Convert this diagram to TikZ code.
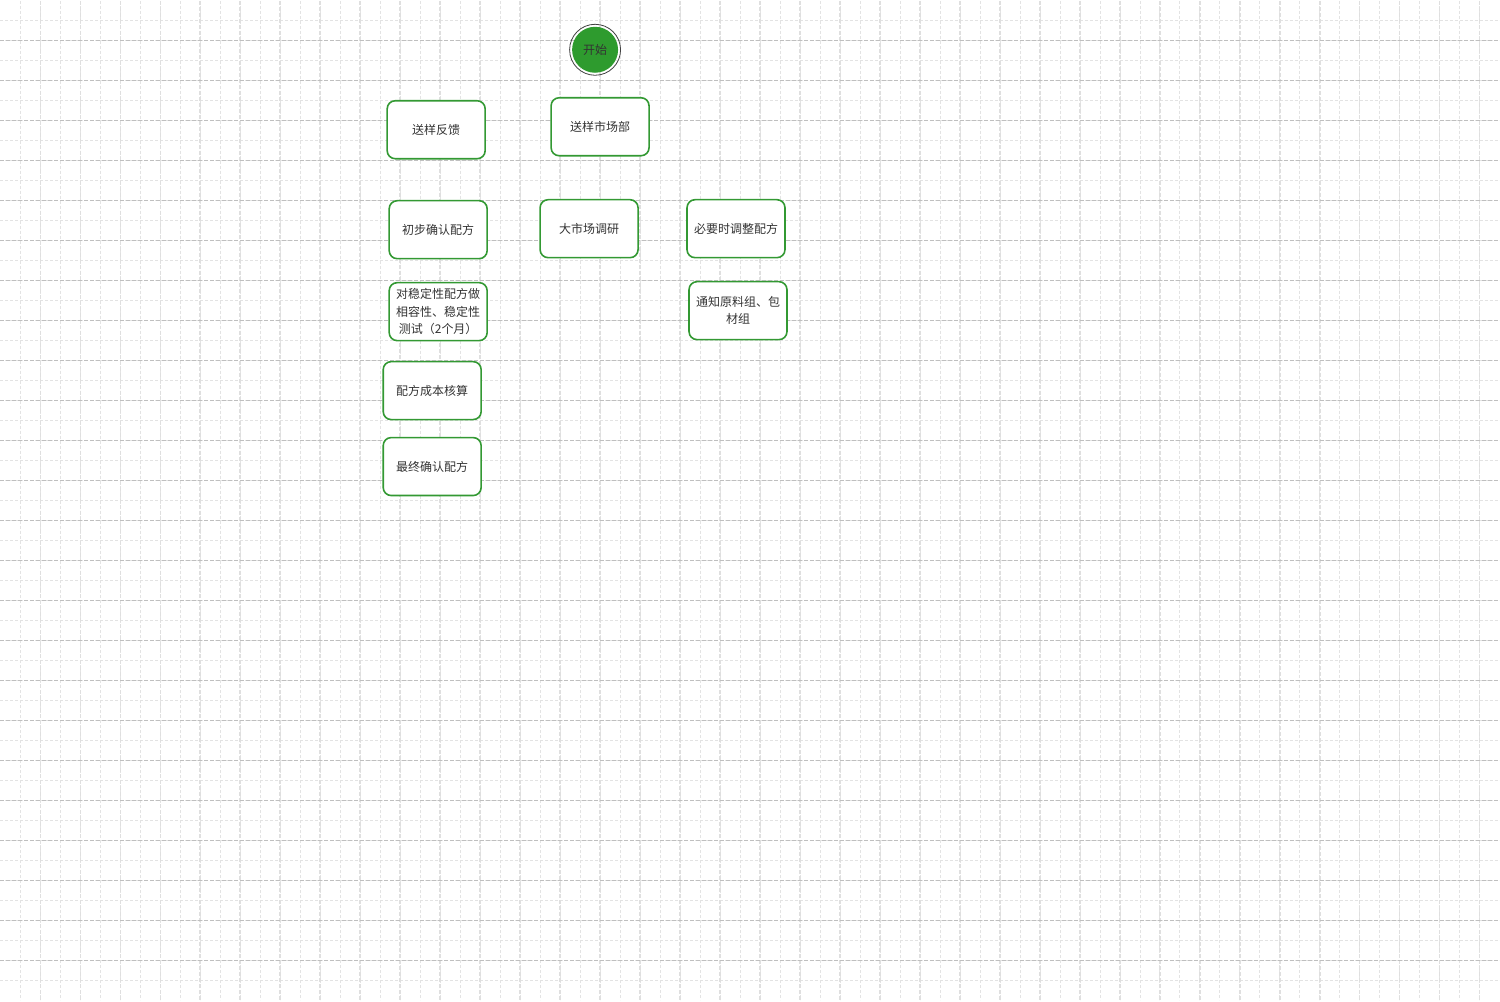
\documentclass[tikz,border=0pt]{standalone}
\usepackage{fontspec}
\newfontfamily\cjk{Noto Sans CJK SC}
\definecolor{boxgreen}{HTML}{339933}
\definecolor{startgreen}{HTML}{2E9B2E}
\definecolor{txt}{HTML}{333333}
\begin{document}
\begin{tikzpicture}[x=1pt, y=-1pt, thick,
  gridminor/.style = {gray!22, line width=0.6pt, dash pattern=on 3pt off 2pt},
  gridrow/.style = {gray!50, line width=0.8pt, dash pattern=on 4pt off 2pt},
  gridcol/.style = {gray!25, line width=1.6pt, dash pattern=on 4pt off 2pt},
  main/.style = {draw=boxgreen, line width=1.6pt, rounded corners=8pt, fill=white,
    minimum width=98pt, minimum height=58pt, align=center, inner sep=2pt,
    text=txt, font=\cjk\fontsize{12}{17.5}\selectfont}]
% background grid
\fill[white] (0,0) rectangle (1500,1000);
\foreach \i in {1,...,74} \draw[gridminor] (\i*20,0) -- (\i*20,1000);
\foreach \i in {1,...,49} \draw[gridminor] (0,\i*20) -- (1500,\i*20);
\foreach \i in {1,...,37} \draw[gridcol] (\i*40,0) -- (\i*40,1000);
\foreach \i in {1,...,24} \draw[gridrow] (0,\i*40) -- (1500,\i*40);
% start
\node (start) [circle, fill=startgreen, minimum size=46pt, inner sep=0pt, text=txt,
  font=\cjk\fontsize{12}{14}\selectfont] at (595,49) {开始};
\draw[black!75, line width=0.8pt] (start.center) circle (25.5pt);
% boxes
\node[main] (fb) at (436,129) {送样反馈};
\node[main] (mkt) at (600,126) {送样市场部};
\node[main] (pre) at (438,229) {初步确认配方};
\node[main] (survey) at (589,228) {大市场调研};
\node[main] (adj) at (736,228) {必要时调整配方};
\node[main] (test) at (438,311) {对稳定性配方做\\相容性、稳定性\\测试（2个月）};
\node[main] (notice) at (738,310) {通知原料组、包\\材组};
\node[main] (cost) at (432,390) {配方成本核算};
\node[main] (final) at (432,466) {最终确认配方};
\end{tikzpicture}
\end{document}
